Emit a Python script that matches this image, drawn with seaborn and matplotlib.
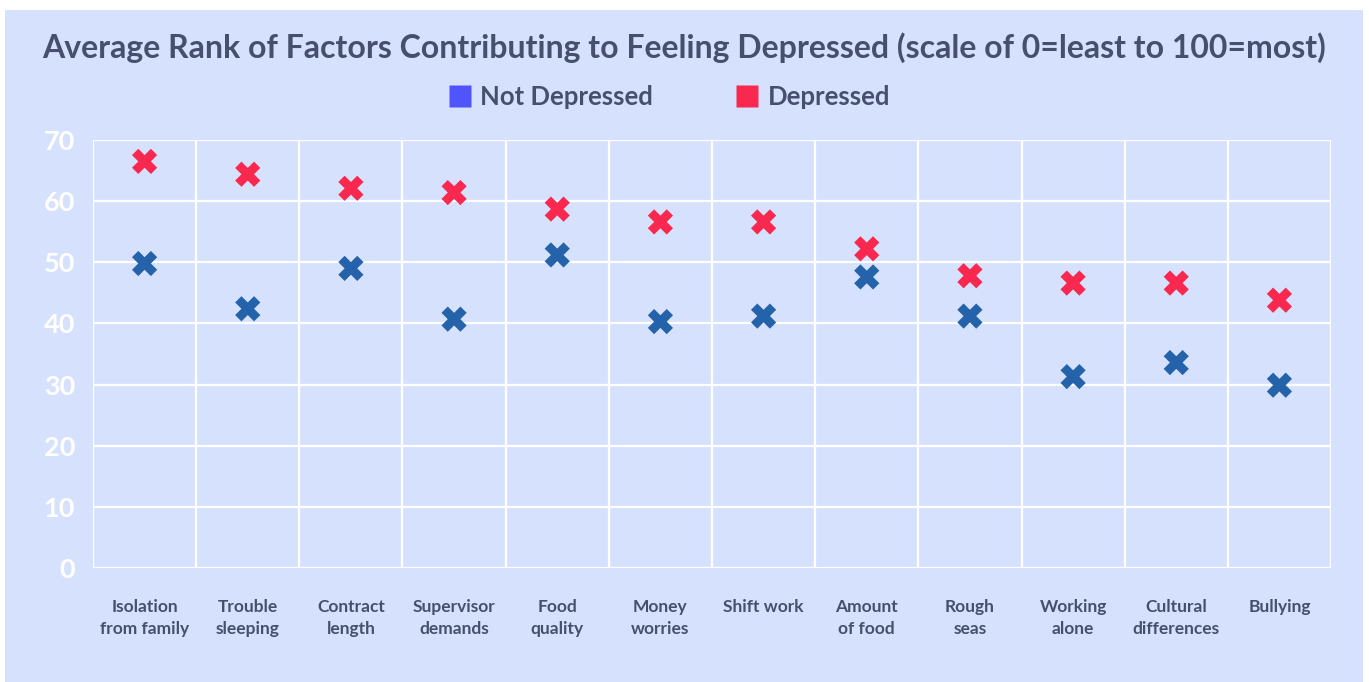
import numpy as np
import pandas as pd
import matplotlib.pyplot as plt
import seaborn as sns
from matplotlib.patches import Rectangle
from matplotlib.lines import Line2D

# Donnees
factors = ["Isolation\nfrom family", "Trouble\nsleeping", "Contract\nlength",
           "Supervisor\ndemands", "Food\nquality", "Money\nworries", "Shift work",
           "Amount\nof food", "Rough\nseas", "Working\nalone", "Cultural\ndifferences",
           "Bullying"]
not_depressed = [49.8, 42.4, 49.0, 40.7, 51.2, 40.3, 41.2, 47.6, 41.2, 31.3, 33.6, 29.9]
depressed = [66.5, 64.4, 62.1, 61.4, 58.7, 56.6, 56.6, 52.2, 47.8, 46.6, 46.6, 43.8]
groups = ["Not Depressed", "Depressed"]
y_ticks = [0, 10, 20, 30, 40, 50, 60, 70]

bg = "#D6E2FD"
text_col = "#46506E"
marker_cols = {"Not Depressed": "#2462AA", "Depressed": "#F9284F"}
legend_cols = {"Not Depressed": "#4F55FB", "Depressed": "#F9284F"}

df = pd.DataFrame({
    "factor": factors * 2,
    "pos": list(range(len(factors))) * 2,
    "value": not_depressed + depressed,
    "group": [groups[0]] * len(factors) + [groups[1]] * len(factors),
})

sns.set_theme(style="white")
plt.rcParams['font.family'] = ['Lato', 'DejaVu Sans']

fig = plt.figure(figsize=(13.69, 6.82), dpi=100)
fig.patch.set_facecolor("white")
fig.patches.append(Rectangle((5 / 1369, 0), 1358 / 1369, 672 / 682,
                             transform=fig.transFigure, facecolor=bg,
                             edgecolor="none", zorder=-10))

ax = fig.add_axes([93 / 1369, 1 - 568 / 682, (1331 - 93) / 1369, (568 - 140) / 682])
ax.set_facecolor(bg)

sns.scatterplot(data=df, x="pos", y="value", hue="group", palette=marker_cols,
                marker="X", s=330, linewidth=0, ax=ax, legend=False, zorder=3)

ax.set_xlim(-0.5, len(factors) - 0.5)
ax.set_ylim(0, 70)
ax.set_yticks(y_ticks)
ax.set_xticks(range(len(factors)))
ax.set_xticklabels(factors, fontsize=12.5, fontweight="bold", color=text_col,
                   linespacing=1.5, va="top")
ax.set_xticks(np.arange(-0.5, len(factors), 1), minor=True)
ax.set_yticklabels([str(t) for t in y_ticks], fontsize=19.5, fontweight="bold",
                   color="white")
ax.tick_params(axis="x", which="both", length=0, pad=22)
ax.tick_params(axis="y", length=0, pad=13)
ax.grid(True, which="minor", axis="x", color="white", linewidth=1.6)
ax.grid(True, which="major", axis="y", color="white", linewidth=1.6)
ax.grid(False, which="major", axis="x")
ax.set_axisbelow(True)
for s in ax.spines.values():
    s.set_visible(False)
ax.set_xlabel("")
ax.set_ylabel("")

fig.text(684 / 1369, 1 - 48 / 682,
         "Average Rank of Factors Contributing to Feeling Depressed (scale of 0=least to 100=most)",
         ha="center", va="center", fontsize=23, fontweight="bold", color=text_col)

handles = [Line2D([], [], marker="s", linestyle="none", markersize=16,
                  markerfacecolor=legend_cols[g], markeredgecolor="none", label=g)
           for g in groups]
leg = fig.legend(handles=handles, loc="center", bbox_to_anchor=(669 / 1369, 1 - 97 / 682),
                 ncol=2, frameon=False, handlelength=0.9, handletextpad=0.35,
                 columnspacing=3.2, prop={"weight": "bold", "size": 18.5})
for t in leg.get_texts():
    t.set_color(text_col)

plt.savefig("out.png", dpi=100, facecolor=fig.get_facecolor())
